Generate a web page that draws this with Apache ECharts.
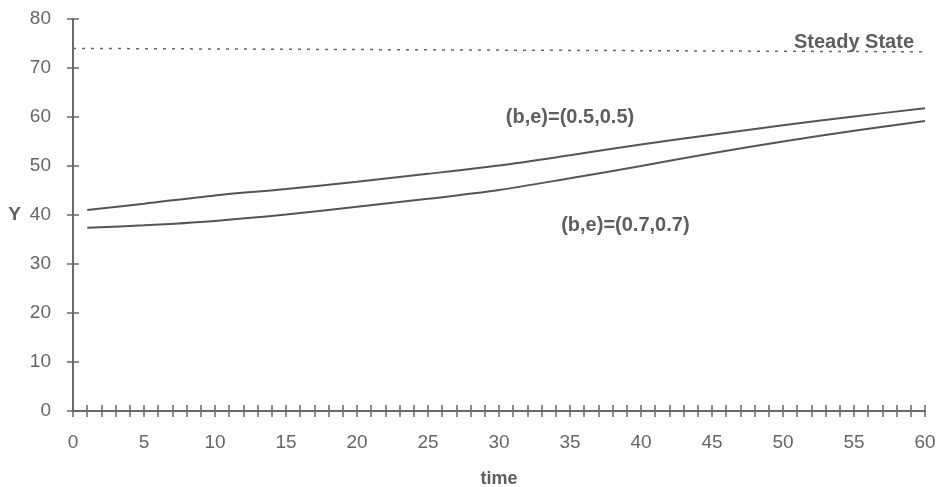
<!DOCTYPE html>
<html>
<head>
<meta charset="utf-8">
<script src="https://cdn.jsdelivr.net/npm/echarts@6/dist/echarts.min.js"></script>
<style>
html,body{margin:0;padding:0;background:#fff;}
#chart{width:936px;height:487px;}
</style>
</head>
<body>
<div id="chart"></div>
<script>
// Data
const times = [1, 5, 10, 15, 20, 25, 30, 35, 40, 45, 50, 55, 60];
const seriesA = [41.0, 42.3, 44.0, 45.3, 46.8, 48.4, 50.1, 52.2, 54.4, 56.4, 58.3, 60.1, 61.8]; // (b,e)=(0.5,0.5)
const seriesB = [37.4, 37.9, 38.8, 40.1, 41.7, 43.3, 45.1, 47.5, 50.0, 52.6, 55.0, 57.2, 59.2]; // (b,e)=(0.7,0.7)
const steadyTimes = [0, 60];
const steadyValues = [74.0, 73.3];
const labelA = '(b,e)=(0.5,0.5)';
const labelB = '(b,e)=(0.7,0.7)';
const labelSteady = 'Steady State';
const labelAPos = [35.0, 59.8];
const labelBPos = [38.9, 37.8];
const labelSteadyPos = [55.0, 75.3];

const zip = (xs, ys) => xs.map((x, i) => [x, ys[i]]);
const axisColor = '#6a6a6a';
const textColor = '#666666';
const font = 'Liberation Sans, Arial, sans-serif';

function annot(pos, text) {
  return {
    symbol: 'circle',
    symbolSize: 1,
    silent: true,
    itemStyle: {color: 'rgba(0,0,0,0)'},
    label: {
      show: true, position: 'inside', formatter: text,
      color: '#5e5e5e', fontFamily: font, fontWeight: 'bold', fontSize: 20
    },
    data: [{coord: pos}]
  };
}

const chart = echarts.init(document.getElementById('chart'), null, {renderer: 'canvas'});
chart.setOption({
  animation: false,
  backgroundColor: '#fff',
  grid: {left: 73, right: 11, top: 19, bottom: 76, containLabel: false, outerBoundsMode: 'none'},
  xAxis: [{
    type: 'value', min: 0, max: 60, interval: 1,
    name: 'time', nameLocation: 'middle', nameGap: 59,
    nameTextStyle: {color: '#5e5e5e', fontFamily: font, fontWeight: 'bold', fontSize: 18},
    axisLine: {show: true, onZero: false, lineStyle: {color: axisColor, width: 2}},
    axisTick: {show: true, length: 6, lineStyle: {color: axisColor, width: 1.5}},
    axisLabel: {margin: 22, color: textColor, fontFamily: font, fontSize: 19,
      formatter: v => (v % 5 === 0 ? String(v) : '')},
    splitLine: {show: false}
  }, {
    type: 'value', min: 0, max: 60, interval: 1, position: 'bottom',
    axisLine: {show: true, onZero: false, lineStyle: {color: axisColor, width: 2}},
    axisTick: {show: true, inside: true, length: 6, lineStyle: {color: axisColor, width: 1.5}},
    axisLabel: {show: false},
    splitLine: {show: false}
  }],
  yAxis: [{
    type: 'value', min: 0, max: 80, interval: 10,
    name: 'Y', nameLocation: 'middle', nameRotate: 0, nameGap: 52,
    nameTextStyle: {color: '#5e5e5e', fontFamily: font, fontWeight: 'bold', fontSize: 19},
    axisLine: {show: true, onZero: false, lineStyle: {color: axisColor, width: 2}},
    axisTick: {show: true, length: 6, lineStyle: {color: axisColor, width: 1.5}},
    axisLabel: {margin: 22, color: textColor, fontFamily: font, fontSize: 19},
    splitLine: {show: false}
  }, {
    type: 'value', min: 0, max: 80, interval: 10, position: 'left',
    axisLine: {show: true, onZero: false, lineStyle: {color: axisColor, width: 2}},
    axisTick: {show: true, inside: true, length: 6, lineStyle: {color: axisColor, width: 1.5}},
    axisLabel: {show: false},
    splitLine: {show: false}
  }],
  series: [{
    type: 'line', name: labelA, data: zip(times, seriesA), smooth: 0.3,
    showSymbol: false, lineStyle: {color: '#555', width: 2},
    markPoint: annot(labelAPos, labelA)
  }, {
    type: 'line', name: labelB, data: zip(times, seriesB), smooth: 0.3,
    showSymbol: false, lineStyle: {color: '#555', width: 2},
    markPoint: annot(labelBPos, labelB)
  }, {
    type: 'line', name: labelSteady, xAxisIndex: 1, yAxisIndex: 1,
    data: zip(steadyTimes, steadyValues),
    showSymbol: false, lineStyle: {color: '#666', width: 1.5, type: [3, 6]},
    markPoint: annot(labelSteadyPos, labelSteady)
  }]
});
</script>
</body>
</html>
